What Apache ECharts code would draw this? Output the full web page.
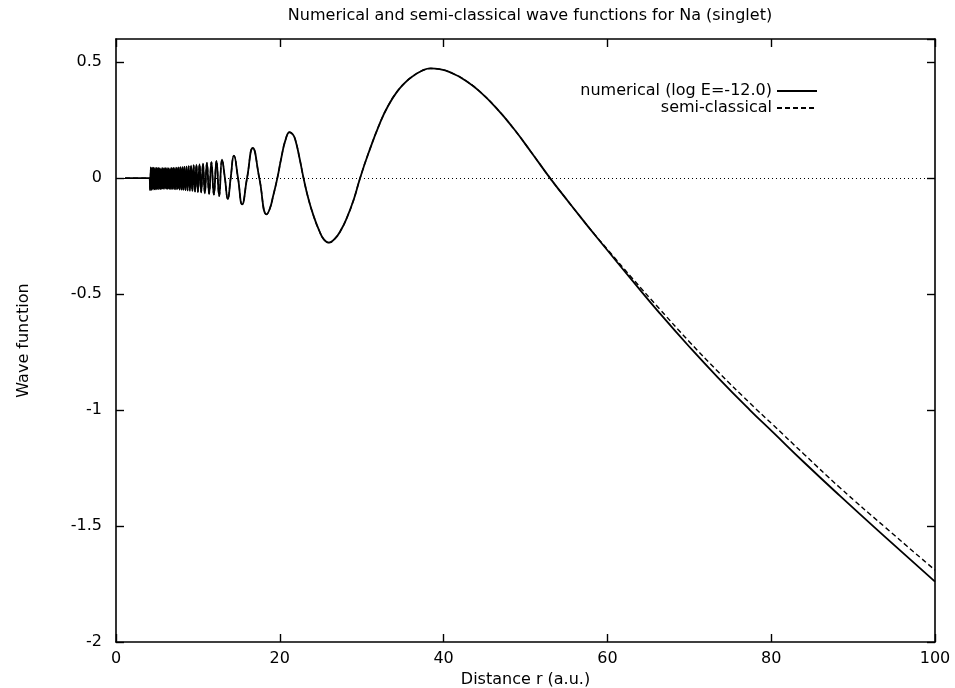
<!DOCTYPE html>
<html>
<head>
<meta charset="utf-8">
<script src="https://cdn.jsdelivr.net/npm/echarts@6/dist/echarts.min.js"></script>
<style>html,body{margin:0;padding:0;background:#fff}#c{width:955px;height:688px}</style>
</head>
<body>
<div id="c"></div>
<script>
// Numerical wave function: dense inner oscillation (r in a.u., psi)
const innerR = [1.1, 4.1, 4.16, 4.25, 4.34, 4.43, 4.52, 4.61, 4.70, 4.79, 4.88, 4.97, 5.06, 5.15, 5.24, 5.33, 5.42, 5.51, 5.60, 5.69, 5.78, 5.87, 5.96, 6.05, 6.14, 6.23, 6.32, 6.41, 6.51, 6.61, 6.71, 6.81, 6.91, 7.01, 7.11, 7.21, 7.32, 7.43, 7.54, 7.65, 7.76, 7.87, 7.99, 8.11, 8.23, 8.35, 8.48, 8.61, 8.74, 8.88, 9.02, 9.17, 9.32, 9.48, 9.65, 9.82, 10.0, 10.2, 10.4, 10.62, 10.85, 11.1, 11.37, 11.65, 11.95, 12.27, 12.6, 12.95];
const innerPsi = [0, 0, -0.052, 0.046, -0.050, 0.045, -0.049, 0.045, -0.048, 0.044, -0.048, 0.044, -0.047, 0.044, -0.047, 0.043, -0.047, 0.043, -0.046, 0.043, -0.046, 0.043, -0.046, 0.043, -0.046, 0.043, -0.046, 0.043, -0.046, 0.043, -0.047, 0.044, -0.047, 0.044, -0.047, 0.045, -0.048, 0.045, -0.048, 0.046, -0.049, 0.047, -0.050, 0.048, -0.051, 0.049, -0.052, 0.050, -0.053, 0.052, -0.054, 0.054, -0.056, 0.056, -0.058, 0.058, -0.060, 0.060, -0.062, 0.063, -0.065, 0.066, -0.068, 0.069, -0.071, 0.074, -0.077, 0.080];
// Numerical wave function: outer part
const outerR = [13.3, 13.65, 14.0, 14.4, 14.9, 15.4, 16.0, 16.7, 17.5, 18.4, 18.8, 19.2, 19.7, 20.2, 20.7, 21.2, 21.6, 21.9, 22.4, 22.9, 23.5, 24.1, 24.8, 25.4, 26.0, 26.7, 27.4, 28.2, 29.0, 29.8, 30.8, 32.2, 33.2, 34.3, 35.3, 36.3, 37.3, 38.4, 39.5, 41.2, 42.8, 44.4, 46.5, 48.5, 50.7, 53.0, 54.8, 56.7, 58.5, 60, 63, 66.4, 70, 73.5, 77.4, 80.2, 84, 88.4, 94, 100];
const outerPsi = [0, -0.090, 0, 0.097, 0, -0.113, 0, 0.130, 0, -0.156, -0.130, -0.075, 0, 0.090, 0.165, 0.198, 0.188, 0.165, 0.088, 0, -0.090, -0.160, -0.225, -0.265, -0.278, -0.262, -0.228, -0.170, -0.095, 0, 0.105, 0.235, 0.310, 0.372, 0.412, 0.441, 0.462, 0.473, 0.470, 0.450, 0.418, 0.374, 0.300, 0.216, 0.112, 0, -0.082, -0.167, -0.246, -0.311, -0.440, -0.583, -0.727, -0.860, -1.000, -1.095, -1.225, -1.370, -1.550, -1.740];
// Semi-classical: coincides with numerical up to r = 56.7, then its own tail
const semiSharedUpTo = 56.7;
const semiTailR = [58.5, 60, 63, 66.4, 70, 73.5, 77.4, 80.2, 84, 88.4, 94, 100];
const semiTailPsi = [-0.245, -0.307, -0.430, -0.565, -0.705, -0.834, -0.970, -1.063, -1.190, -1.335, -1.508, -1.690];
// Axis ticks
const xTicks = [0, 20, 40, 60, 80, 100];
const yTicks = [-2, -1.5, -1, -0.5, 0, 0.5];

const numR = innerR.concat(outerR);
const numPsi = innerPsi.concat(outerPsi);
const numData = numR.map((r, i) => [r, numPsi[i]]);
const semiData = numData.filter(p => p[0] <= semiSharedUpTo)
  .concat(semiTailR.map((r, i) => [r, semiTailPsi[i]]));

const FONT = 'DejaVu Sans';
const chart = echarts.init(document.getElementById('c'), null, {renderer: 'canvas'});
const axisLineStyle = {color: '#000', width: 1.6};
const tickStyle = {show: true, inside: true, length: 8, lineStyle: {color: '#000', width: 1.4}};
const legendCommon = {right: 137, padding: 0, orient: 'vertical', align: 'right', itemWidth: 40, itemHeight: 12,
  itemStyle: {opacity: 0}, textStyle: {fontFamily: FONT, fontSize: 16, color: '#000'}};
chart.setOption({
  backgroundColor: '#fff',
  animation: false,
  title: {
    text: 'Numerical and semi-classical wave functions for Na (singlet)',
    left: 525, top: 3, textAlign: 'center',
    textStyle: {fontFamily: FONT, fontSize: 16, fontWeight: 'normal', color: '#000'}
  },
  legend: [
    Object.assign({data: ['numerical (log E=-12.0)'], top: 83}, legendCommon),
    Object.assign({data: ['semi-classical'], top: 100}, legendCommon)
  ],
  grid: {left: 116, right: 20, top: 39, bottom: 46, containLabel: false, outerBoundsMode: 'none'},
  xAxis: [
    {type: 'value', min: 0, max: 100, interval: 20, position: 'bottom',
     name: 'Distance r (a.u.)', nameLocation: 'middle', nameGap: 28,
     nameTextStyle: {fontFamily: FONT, fontSize: 16, color: '#000'},
     axisLine: {show: true, onZero: false, lineStyle: axisLineStyle}, axisTick: tickStyle,
     axisLabel: {fontFamily: FONT, fontSize: 16, color: '#000', margin: 9},
     splitLine: {show: false}},
    {type: 'value', min: 0, max: 100, interval: 20, position: 'top',
     axisLine: {show: true, onZero: false, lineStyle: axisLineStyle}, axisTick: tickStyle,
     axisLabel: {show: false}, splitLine: {show: false}}
  ],
  yAxis: [
    {type: 'value', min: -2, max: 0.6, interval: 0.5, position: 'left',
     name: 'Wave function', nameLocation: 'middle', nameGap: 84,
     nameTextStyle: {fontFamily: FONT, fontSize: 16, color: '#000'},
     axisLine: {show: true, onZero: false, lineStyle: axisLineStyle}, axisTick: tickStyle,
     axisLabel: {fontFamily: FONT, fontSize: 16, color: '#000', margin: 14, showMaxLabel: false},
     splitLine: {show: false}},
    {type: 'value', min: -2, max: 0.6, interval: 0.5, position: 'right',
     axisLine: {show: true, onZero: false, lineStyle: axisLineStyle}, axisTick: tickStyle,
     axisLabel: {show: false}, splitLine: {show: false}}
  ],
  series: [
    {name: 'numerical (log E=-12.0)', type: 'line', data: numData, symbol: 'none', smooth: 0.5,
     lineStyle: {color: '#000', width: 1.8}, itemStyle: {color: '#000'}, z: 3,
     markLine: {silent: true, symbol: 'none', label: {show: false}, z: 1,
       lineStyle: {color: '#000', type: [1, 3], width: 1}, data: [{yAxis: 0}]}},
    {name: 'semi-classical', type: 'line', data: semiData, symbol: 'none', smooth: 0.5,
     lineStyle: {color: '#000', width: 1.4, type: [5, 3]}, itemStyle: {color: '#000'}, z: 2}
  ]
});
</script>
</body>
</html>
